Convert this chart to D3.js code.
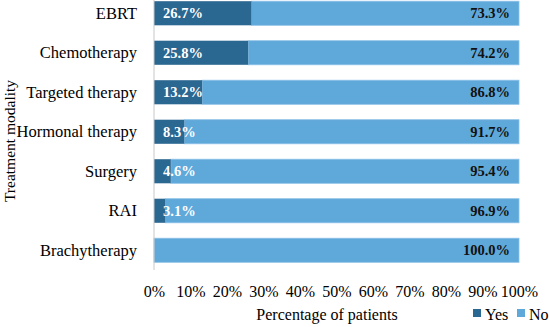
<!DOCTYPE html>
<html lang="en">
<head>
<meta charset="UTF-8">
<title>Treatment modality</title>
<script src="https://cdn.jsdelivr.net/npm/d3@7"></script>
<style>
    body { margin: 0; background: #fff; }
    svg { font-family: "Liberation Serif", "Times New Roman", serif; }
    .cat text { font-size: 16.5px; fill: #000; }
    .xax text { font-size: 16px; fill: #000; }
</style>
</head>
<body>
<svg width="549" height="327"></svg>
<script>
    // Data
    const categories = ["EBRT", "Chemotherapy", "Targeted therapy", "Hormonal therapy", "Surgery", "RAI", "Brachytherapy"];
    const yesValues = [26.7, 25.8, 13.2, 8.3, 4.6, 3.1, 0];
    const noValues = [73.3, 74.2, 86.8, 91.7, 95.4, 96.9, 100.0];
    const xTicks = [0, 10, 20, 30, 40, 50, 60, 70, 80, 90, 100];
    const seriesNames = ["Yes", "No"];

    const colors = { Yes: "#2a6791", No: "#5fa8da" };
    const serif = '"Liberation Serif", "Times New Roman", serif';

    const svg = d3.select("svg");
    const plotLeft = 154, plotRight = 519, plotTop = -6.5, plotBottom = 270;

    const x = d3.scaleLinear().domain([0, 100]).range([plotLeft, plotRight]);
    const y = d3.scaleBand().domain(categories).range([plotTop, plotBottom]).paddingInner(0.39).paddingOuter(0.195);

    const rows = categories.map((c, i) => ({ cat: c, yes: yesValues[i], no: noValues[i] }));

    // Bars
    const g = svg.append("g");
    g.selectAll(".no").data(rows).enter().append("rect")
        .attr("x", d => x(d.yes))
        .attr("y", d => y(d.cat))
        .attr("width", d => x(d.yes + d.no) - x(d.yes))
        .attr("height", y.bandwidth())
        .attr("fill", colors.No)
        .attr("stroke", "#8cc2e8")
        .attr("stroke-width", 0.8);

    g.selectAll(".yes").data(rows.filter(d => d.yes > 0)).enter().append("rect")
        .attr("x", x(0))
        .attr("y", d => y(d.cat))
        .attr("width", d => x(d.yes) - x(0))
        .attr("height", y.bandwidth())
        .attr("fill", colors.Yes);

    // Vertical axis line
    svg.append("line")
        .attr("x1", plotLeft).attr("x2", plotLeft)
        .attr("y1", 0).attr("y2", plotBottom)
        .attr("stroke", "#c8c8c8").attr("stroke-width", 1);

    // Value labels
    g.selectAll(".ylab").data(rows.filter(d => d.yes > 0)).enter().append("text")
        .attr("x", x(0) + 9)
        .attr("y", d => y(d.cat) + y.bandwidth() / 2)
        .attr("dy", "0.35em")
        .attr("fill", "#fff")
        .attr("font-weight", "bold")
        .attr("font-size", "14.5px")
        .text(d => d.yes.toFixed(1) + "%");

    g.selectAll(".nlab").data(rows).enter().append("text")
        .attr("x", x(100) - 9)
        .attr("y", d => y(d.cat) + y.bandwidth() / 2)
        .attr("dy", "0.35em")
        .attr("text-anchor", "end")
        .attr("fill", "#111")
        .attr("font-weight", "bold")
        .attr("font-size", "14.5px")
        .text(d => d.no.toFixed(1) + "%");

    // Category axis
    const yAxis = svg.append("g").attr("class", "cat")
        .attr("transform", `translate(${plotLeft},0)`)
        .call(d3.axisLeft(y).tickSize(0).tickPadding(17))
        .attr("font-family", serif);
    yAxis.select(".domain").remove();

    // X axis
    const xAxis = svg.append("g").attr("class", "xax")
        .attr("transform", `translate(0,${plotBottom})`)
        .call(d3.axisBottom(x).tickValues(xTicks).tickFormat(d => d + "%").tickSize(0).tickPadding(16))
        .attr("font-family", serif);
    xAxis.select(".domain").remove();

    // Axis titles
    svg.append("text")
        .attr("x", 327).attr("y", 320)
        .attr("text-anchor", "middle")
        .attr("font-size", "16px")
        .text("Percentage of patients");

    svg.append("text")
        .attr("transform", `translate(14.5,141) rotate(-90)`)
        .attr("text-anchor", "middle")
        .attr("font-size", "15.5px")
        .text("Treatment modality");

    // Legend
    const legendX = [473, 517];
    const legend = svg.append("g").selectAll("g").data(seriesNames).enter().append("g")
        .attr("transform", (d, i) => `translate(${legendX[i]},309)`);
    legend.append("rect")
        .attr("width", 8).attr("height", 8)
        .attr("fill", d => colors[d]);
    legend.append("text")
        .attr("x", 12).attr("y", 11)
        .attr("font-size", "16px")
        .text(d => d);
</script>
</body>
</html>
